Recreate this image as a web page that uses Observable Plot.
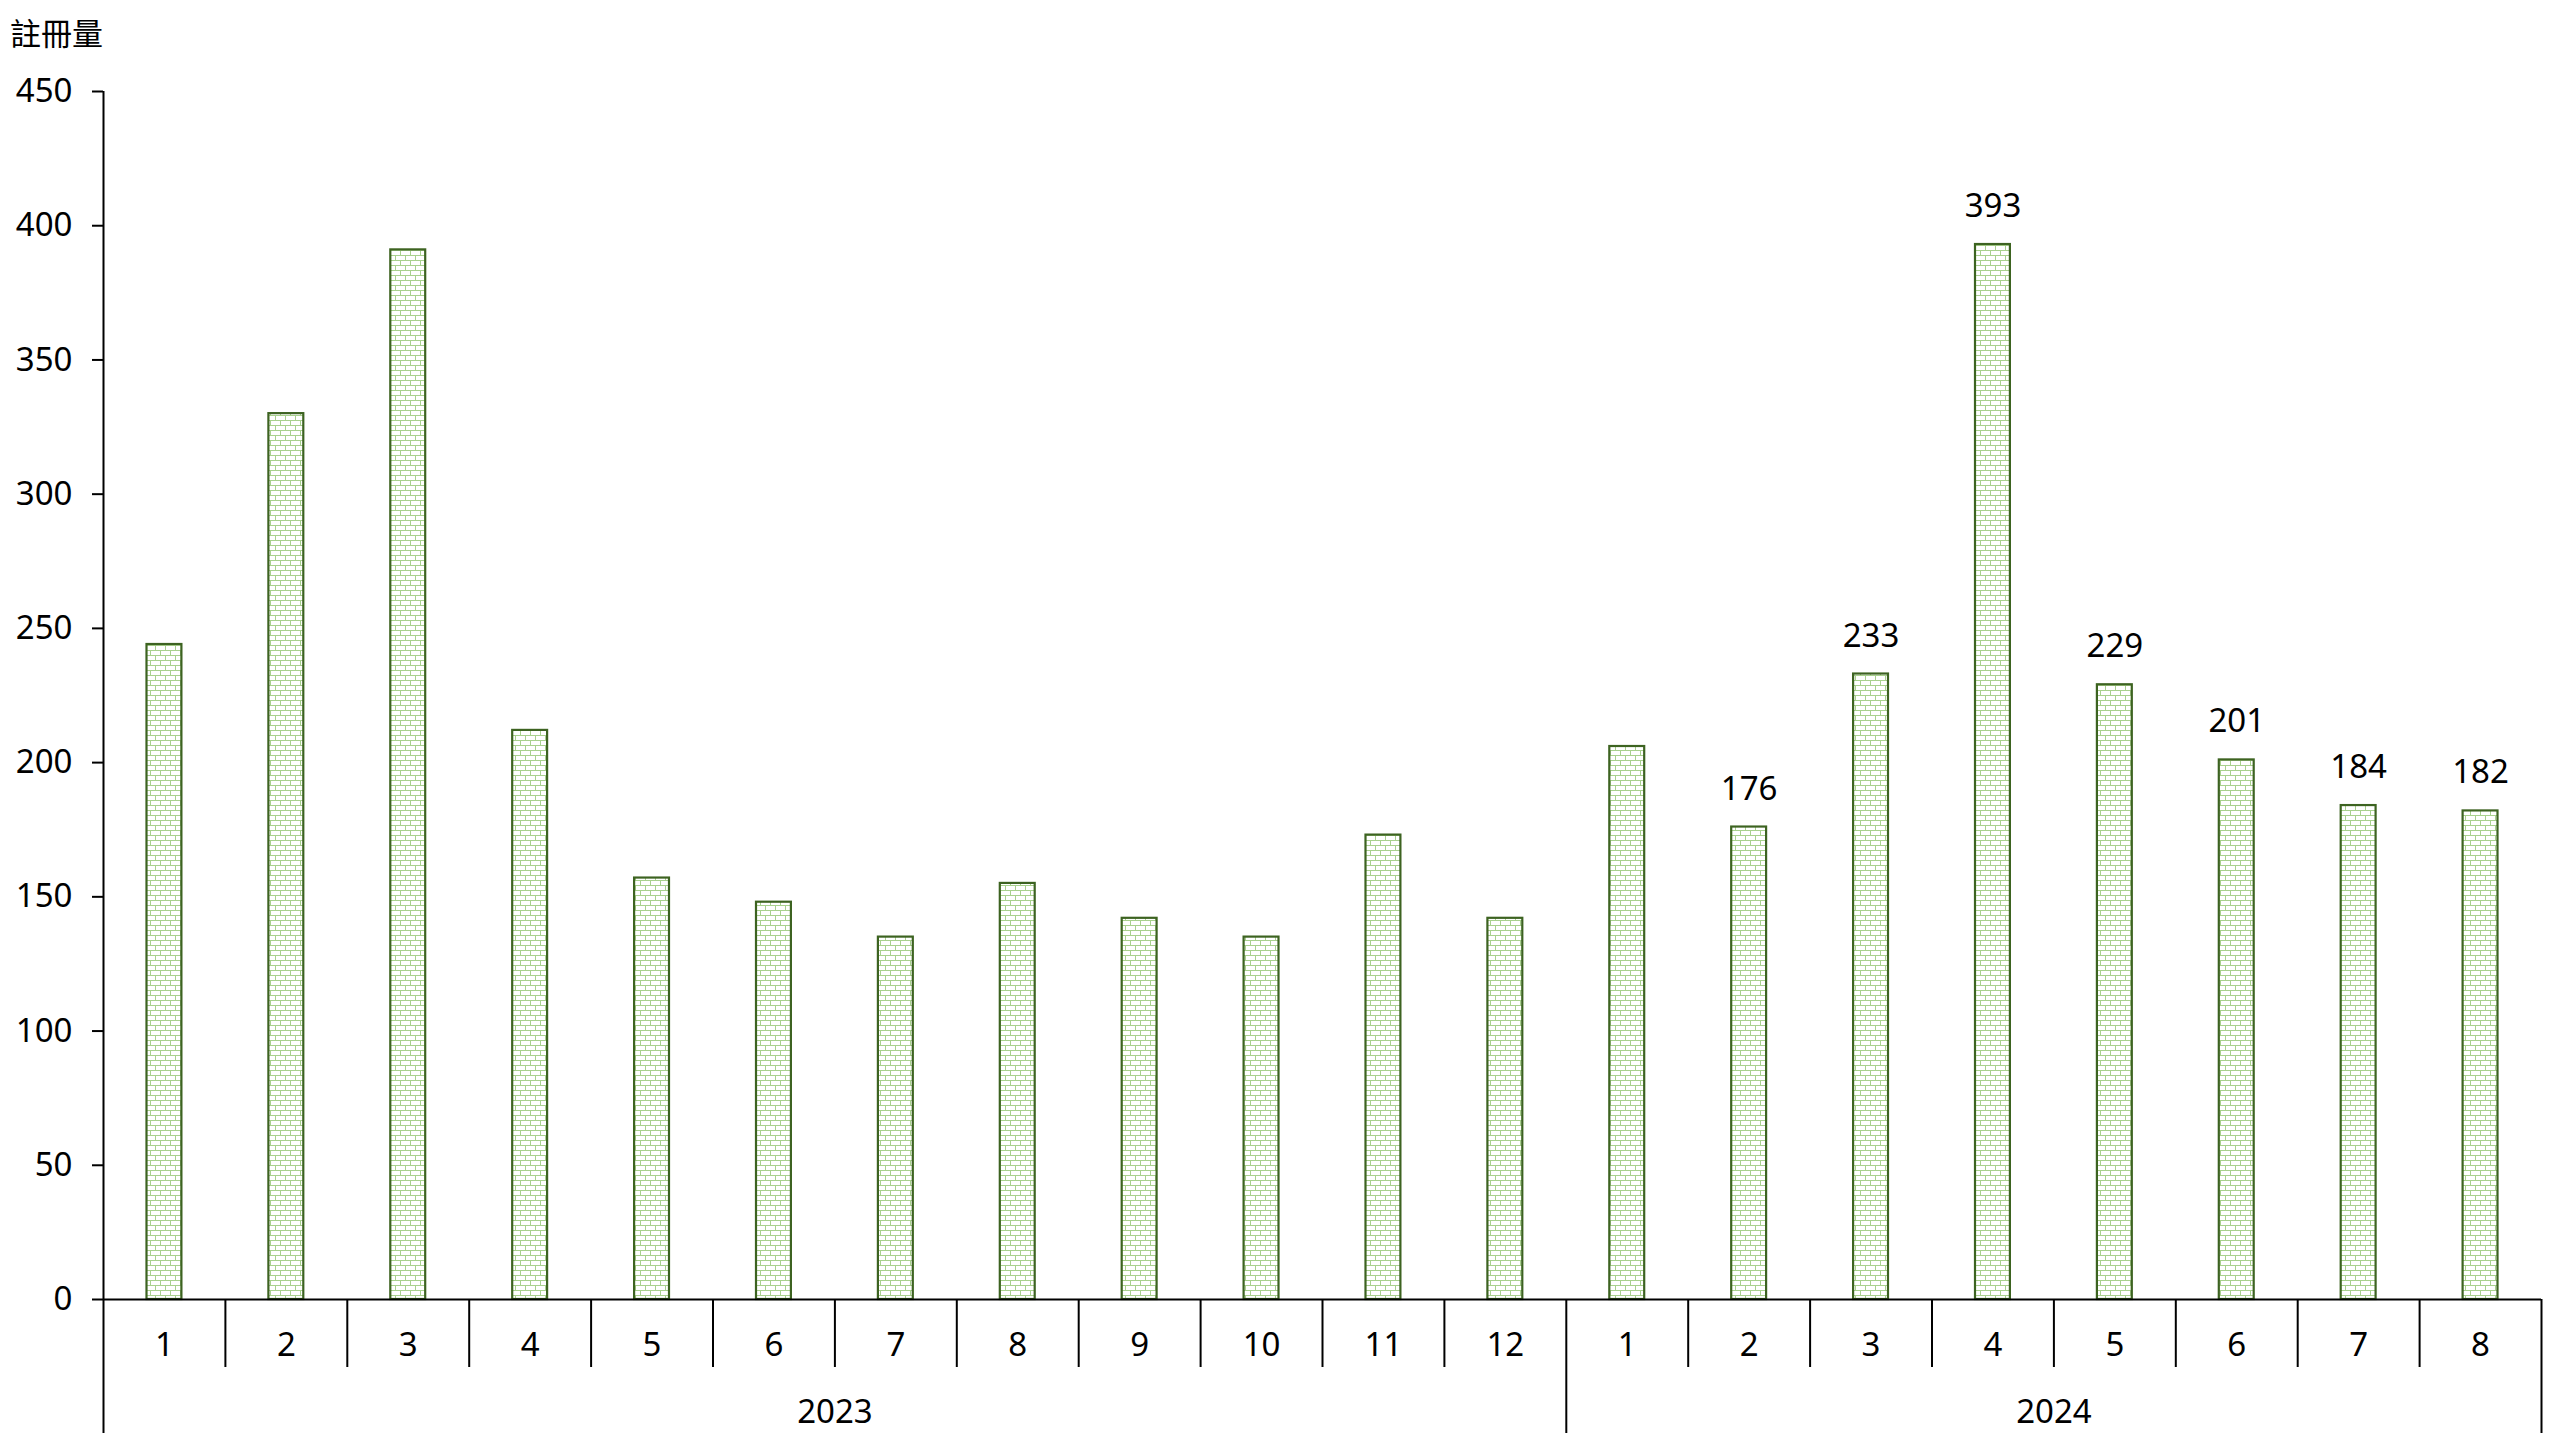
<!DOCTYPE html>
<html>
<head>
<meta charset="utf-8">
<script src="https://cdn.jsdelivr.net/npm/d3@7"></script>
<script src="https://cdn.jsdelivr.net/npm/@observablehq/plot@0.6"></script>
<style>
  html, body { margin: 0; padding: 0; background: #fff; }
  #wrap { position: relative; width: 2560px; height: 1440px; }
  #title { position: absolute; left: 10px; top: 9px; font-family: "Noto Sans CJK TC", "Noto Sans", sans-serif; font-size: 31px; color: #000; }
  svg { display: block; }
</style>
</head>
<body>
<div id="wrap"><div id="title">註冊量</div></div>
<script>
const yearLabels = ["2023", "2024"];
const months2023 = ["1","2","3","4","5","6","7","8","9","10","11","12"];
const months2024 = ["1","2","3","4","5","6","7","8"];
const values2023 = [244, 330, 391, 212, 157, 148, 135, 155, 142, 135, 173, 142];
const values2024 = [206, 176, 233, 393, 229, 201, 184, 182];
const labelled2024 = [false, true, true, true, true, true, true, true];
const yTicks = [0, 50, 100, 150, 200, 250, 300, 350, 400, 450];

const rows = [];
months2023.forEach((m, k) => rows.push({i: rows.length, month: m, year: yearLabels[0], value: values2023[k], show: false}));
months2024.forEach((m, k) => rows.push({i: rows.length, month: m, year: yearLabels[1], value: values2024[k], show: labelled2024[k]}));
const n = rows.length;

const yearStarts = [0, months2023.length, n];
const yearCenters = [ (yearStarts[0] + yearStarts[1]) / 2, (yearStarts[1] + yearStarts[2]) / 2 ];
const monthSeps = rows.map(d => d.i).filter(i => i > 0 && !yearStarts.includes(i));
const monthCenters = rows.map(d => d.i + 0.5);

const font = '"Noto Sans", "Open Sans", sans-serif';
const fs = 33;

const chart = Plot.plot({
  width: 2560,
  height: 1440,
  marginTop: 91,
  marginBottom: 141,
  marginLeft: 103,
  marginRight: 19,
  style: {fontFamily: font, fontSize: fs + "px", color: "#000", background: "#fff"},
  x: {domain: [0, n], axis: null},
  y: {domain: [0, 450], axis: null},
  marks: [
    Plot.rectY(rows, {x1: "i", x2: d => d.i + 1, y: "value", insetLeft: 43.5, insetRight: 43.5, fill: "url(#brick)", stroke: "#3d6321", strokeWidth: 2.2}),
    Plot.text(rows.filter(d => d.show), {x: d => d.i + 0.5, y: "value", text: d => String(d.value), dy: -38, lineAnchor: "middle", fontSize: fs, fill: "#000"}),
    Plot.axisY({ticks: yTicks, tickSize: 11, tickPadding: 20, strokeWidth: 2, label: null, fontSize: fs, tickFormat: d => String(d)}),
    Plot.ruleX([0], {stroke: "#000", strokeWidth: 2}),
    Plot.ruleY([0], {stroke: "#000", strokeWidth: 2}),
    Plot.axisX({ticks: monthSeps, tickSize: 68, strokeWidth: 2, tickFormat: () => "", label: null}),
    Plot.axisX({ticks: yearStarts, tickSize: 134, strokeWidth: 2, tickFormat: () => "", label: null}),
    Plot.axisX({ticks: monthCenters, tickSize: 0, tickPadding: 33, tickFormat: d => rows[Math.floor(d)].month, label: null, fontSize: fs}),
    Plot.axisX({ticks: yearCenters, tickSize: 0, tickPadding: 100, tickFormat: d => rows[Math.floor(d)].year, label: null, fontSize: fs})
  ]
});

const svg = d3.select(chart);
const defs = svg.insert("defs", ":first-child");
const pat = defs.append("pattern").attr("id", "brick").attr("patternUnits", "userSpaceOnUse").attr("width", 10).attr("height", 10);
pat.append("rect").attr("width", 10).attr("height", 10).attr("fill", "#fff");
const pc = "#a9d18e";
pat.append("path").attr("d", "M0,0.5H10M0,5.5H10M0.5,0V5M5.5,5V10").attr("stroke", pc).attr("stroke-width", 1).attr("fill", "none");

document.getElementById("wrap").appendChild(chart);
chart.style.position = "absolute";
chart.style.left = "0";
chart.style.top = "0";
document.getElementById("title").style.zIndex = 2;
</script>
</body>
</html>
